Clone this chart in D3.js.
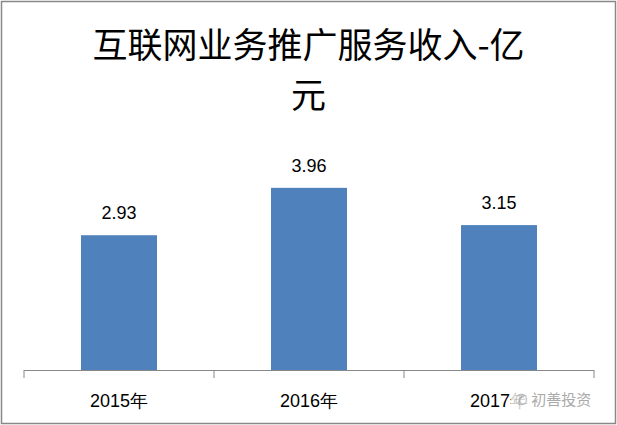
<!DOCTYPE html>
<html><head><meta charset="utf-8">
<script src="https://cdn.jsdelivr.net/npm/d3@7"></script>
<style>body{margin:0;background:#fff}</style>
</head><body>
<script>
var categories = ["2015年", "2016年", "2017年"];
var values = [2.93, 3.96, 3.15];
var titleLines = ["互联网业务推广服务收入-亿", "元"];

var W = 617, H = 425;
var svg = d3.select("body").append("svg").attr("width", W).attr("height", H);
svg.append("rect").attr("x", 1.5).attr("y", 1.5).attr("width", W - 3).attr("height", H - 3)
  .attr("fill", "#fff").attr("stroke", "#888").attr("stroke-width", 1.5);

var x0 = 24, x1 = 594;
var x = d3.scaleBand().domain(categories).range([x0, x1]).paddingInner(0.6).paddingOuter(0.3);
var y = d3.scaleLinear().domain([0, 4.5]).range([370, 163]);

svg.selectAll("text.title").data(titleLines).enter().append("text")
  .attr("class", "title").attr("x", W / 2).attr("y", function(d, i){ return 58 + i * 50; })
  .attr("text-anchor", "middle").attr("font-family", "Noto Sans CJK SC").attr("font-size", 35)
  .text(function(d){ return d; });

svg.selectAll("rect.bar").data(values).enter().append("rect")
  .attr("class", "bar")
  .attr("x", function(d, i){ return x(categories[i]); })
  .attr("width", x.bandwidth())
  .attr("y", function(d){ return y(d); })
  .attr("height", function(d){ return y(0) - y(d); })
  .attr("fill", "#4f81bd");

svg.selectAll("text.val").data(values).enter().append("text")
  .attr("class", "val")
  .attr("x", function(d, i){ return x(categories[i]) + x.bandwidth() / 2; })
  .attr("y", function(d){ return y(d) - 16; })
  .attr("text-anchor", "middle").attr("font-family", "Liberation Sans").attr("font-size", 18)
  .text(function(d){ return d.toFixed(2); });

var step = (x1 - x0) / categories.length;
var axis = svg.append("g").attr("stroke", "#888").attr("stroke-width", 1);
axis.append("line").attr("x1", x0).attr("x2", x1).attr("y1", 370.5).attr("y2", 370.5);
d3.range(categories.length + 1).forEach(function(i){
  axis.append("line").attr("x1", x0 + i * step).attr("x2", x0 + i * step).attr("y1", 370).attr("y2", 378);
});

svg.selectAll("text.cat").data(categories).enter().append("text")
  .attr("class", "cat")
  .attr("x", function(d){ return x(d) + x.bandwidth() / 2; })
  .attr("y", 407).attr("text-anchor", "middle")
  .attr("font-family", "Liberation Sans").attr("font-size", 18)
  .text(function(d){ return d; });

svg.append("rect").attr("x", 511).attr("y", 388).attr("width", 92).attr("height", 22).attr("fill", "#fff").attr("opacity", 0.8);
svg.append("text").attr("x", 515).attr("y", 405).attr("font-family", "Noto Sans CJK SC")
  .attr("font-size", 15).attr("fill", "#aaa").text("✆ 初善投资");
</script>
</body></html>
